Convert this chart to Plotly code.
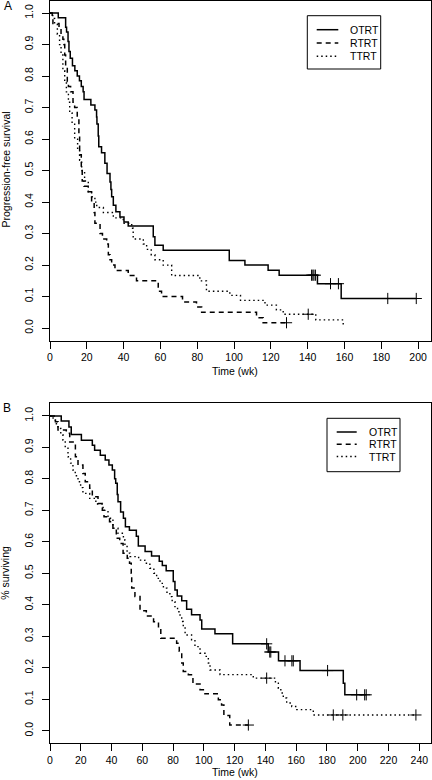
import plotly.graph_objects as go

# ---------------- Panel A : progression-free survival ----------------
a_otrt_t = [4.5, 8.5, 9.0, 9.8, 10.3, 11.0, 12.2, 13.5, 14.8, 16.0, 17.0, 18.0, 18.5,
            22.2, 24.4, 25.3, 25.5, 26.2, 26.5, 28.0, 29.8, 31.0, 32.6, 33.1, 33.5, 34.4,
            35.8, 38.0, 40.2, 42.5, 56.1, 57.0, 61.5, 97.4, 105.9, 118.5, 124.5, 145.3, 158.2]
a_otrt_s = [0.985, 0.955, 0.94, 0.91, 0.878, 0.857, 0.833, 0.817, 0.80, 0.785, 0.767, 0.75, 0.726,
            0.708, 0.692, 0.67, 0.648, 0.61, 0.576, 0.557, 0.523, 0.491, 0.464, 0.44, 0.417, 0.39,
            0.369, 0.353, 0.337, 0.324, 0.29, 0.263, 0.247, 0.215, 0.20, 0.184, 0.168, 0.141, 0.094]
a_otrt_cens = [142.1, 142.8, 143.4, 144.2, 152.4, 156.7, 183.5, 199.0]
a_otrt_end = 199.0

a_rtrt_t = [1.2, 1.6, 4.9, 6.0, 7.0, 7.5, 8.0, 8.5, 9.4, 10.0, 11.2, 12.5, 13.4, 14.8, 15.7,
            16.1, 17.0, 17.5, 18.5, 20.8, 22.6, 24.0, 24.4, 27.2, 28.5, 30.8, 31.7, 32.6, 33.5,
            35.3, 42.5, 47.0, 58.8, 60.6, 72.0, 79.6, 82.4, 112.2, 115.8]
a_rtrt_s = [0.983, 0.967, 0.95, 0.933, 0.917, 0.90, 0.867, 0.833, 0.783, 0.767, 0.75, 0.717, 0.70,
            0.667, 0.617, 0.55, 0.50, 0.467, 0.45, 0.433, 0.40, 0.367, 0.333, 0.30, 0.283, 0.267,
            0.233, 0.217, 0.20, 0.183, 0.167, 0.15, 0.117, 0.10, 0.083, 0.067, 0.05, 0.033, 0.017]
a_rtrt_cens = [128.5]
a_rtrt_end = 128.5

a_ttrt_t = [1.5, 2.5, 4.0, 5.2, 6.0, 7.0, 8.0, 8.9, 10.0, 10.7, 12.0, 13.4, 15.0, 16.1, 17.2,
            18.8, 20.8, 22.6, 24.4, 25.4, 29.0, 34.4, 39.8, 44.4, 45.2, 50.7, 52.5, 55.0, 57.0,
            61.5, 66.1, 81.4, 85.0, 97.7, 103.5, 116.8, 123.0, 126.7, 144.4, 159.3]
a_ttrt_s = [0.983, 0.967, 0.933, 0.90, 0.867, 0.817, 0.783, 0.75, 0.717, 0.683, 0.65, 0.60, 0.567,
            0.533, 0.50, 0.467, 0.433, 0.417, 0.40, 0.383, 0.367, 0.35, 0.333, 0.317, 0.283,
            0.267, 0.25, 0.233, 0.217, 0.20, 0.167, 0.15, 0.117, 0.104, 0.088, 0.073, 0.058,
            0.044, 0.026, 0.011]
a_ttrt_cens = [140.3]
a_ttrt_end = 160.3

# ---------------- Panel B : overall survival ----------------
b_otrt_t = [7.3, 12.3, 13.8, 20.4, 27.5, 29.0, 32.7, 35.9, 38.3, 40.5, 42.0, 42.7, 43.7, 44.2,
            45.9, 47.7, 49.0, 51.6, 56.1, 57.4, 61.8, 66.0, 71.0, 73.0, 75.5, 80.1, 81.2, 82.7,
            85.6, 88.8, 92.0, 97.5, 98.6, 107.2, 118.7, 141.8, 148.5, 162.5, 190.6, 191.6]
b_otrt_s = [0.984, 0.965, 0.941, 0.923, 0.907, 0.891, 0.875, 0.86, 0.844, 0.828, 0.80, 0.786,
            0.75, 0.727, 0.695, 0.675, 0.648, 0.637, 0.618, 0.587, 0.569, 0.555, 0.538, 0.525,
            0.508, 0.474, 0.447, 0.428, 0.413, 0.386, 0.368, 0.352, 0.323, 0.308, 0.276, 0.25,
            0.222, 0.191, 0.151, 0.114]
b_otrt_cens = [140.8, 142.8, 143.5, 152.7, 157.2, 158.1, 180.4, 199.3, 204.5, 205.5]
b_otrt_end = 205.5

b_rtrt_t = [3.5, 5.2, 10.6, 12.8, 16.5, 18.2, 21.4, 22.9, 25.8, 27.5, 31.2, 34.0, 35.1, 38.7,
            40.9, 43.1, 45.3, 47.5, 50.2, 51.7, 52.8, 53.1, 55.2, 58.5, 62.6, 67.3, 70.5, 72.0,
            82.3, 84.0, 85.6, 86.6, 89.9, 92.9, 97.5, 100.7, 109.4, 111.5, 113.0, 116.8]
b_rtrt_s = [0.981, 0.955, 0.945, 0.917, 0.87, 0.844, 0.817, 0.791, 0.77, 0.743, 0.722, 0.70,
            0.68, 0.664, 0.643, 0.611, 0.595, 0.564, 0.548, 0.532, 0.50, 0.453, 0.426, 0.381,
            0.364, 0.346, 0.326, 0.294, 0.278, 0.252, 0.215, 0.188, 0.178, 0.148, 0.13, 0.117,
            0.098, 0.082, 0.048, 0.018]
b_rtrt_cens = [128.9]
b_rtrt_end = 128.9

b_ttrt_t = [2.0, 3.5, 5.2, 7.0, 8.4, 9.9, 11.7, 13.4, 14.9, 16.4, 18.2, 19.9, 21.4, 25.8, 29.8,
            34.5, 37.7, 40.9, 44.2, 47.7, 48.7, 50.1, 52.0, 57.6, 61.6, 64.9, 67.5, 69.3, 71.5,
            73.7, 76.0, 77.9, 79.4, 81.2, 82.9, 84.5, 85.6, 86.6, 87.8, 92.0, 94.2, 97.5, 100.7,
            102.9, 104.0, 110.5, 132.1, 146.5, 148.4, 150.0, 151.6, 153.8, 157.1, 160.4, 171.1]
b_ttrt_s = [0.99, 0.975, 0.96, 0.94, 0.923, 0.90, 0.87, 0.85, 0.828, 0.81, 0.791, 0.772, 0.754,
            0.738, 0.72, 0.70, 0.675, 0.643, 0.627, 0.606, 0.585, 0.564, 0.553, 0.542, 0.532,
            0.516, 0.50, 0.484, 0.468, 0.453, 0.44, 0.426, 0.41, 0.394, 0.378, 0.363, 0.347,
            0.331, 0.304, 0.289, 0.267, 0.246, 0.236, 0.215, 0.193, 0.178, 0.167, 0.151, 0.135,
            0.12, 0.104, 0.088, 0.077, 0.067, 0.05]
b_ttrt_cens = [140.8, 184.1, 190.3, 237.8]
b_ttrt_end = 237.8

groups = ["OTRT", "RTRT", "TTRT"]
x_ticks_a = list(range(0, 201, 20))
x_ticks_b = list(range(0, 241, 20))
y_ticks = [i / 10 for i in range(11)]

W, H = 432, 780
FONT = "Liberation Sans, Arial, Helvetica, sans-serif"
dash_styles = {"OTRT": "solid", "RTRT": "5px,4px", "TTRT": "1.5px,3px"}
widths = {"OTRT": 1.5, "RTRT": 1.5, "TTRT": 1.4}


def level_at(times, surv, t):
    s = 1.0
    for ti, si in zip(times, surv):
        if ti <= t:
            s = si
    return s


fig = go.Figure()
panels = [
    ("x", "y", [(a_otrt_t, a_otrt_s, a_otrt_cens, a_otrt_end),
                (a_rtrt_t, a_rtrt_s, a_rtrt_cens, a_rtrt_end),
                (a_ttrt_t, a_ttrt_s, a_ttrt_cens, a_ttrt_end)]),
    ("x2", "y2", [(b_otrt_t, b_otrt_s, b_otrt_cens, b_otrt_end),
                  (b_rtrt_t, b_rtrt_s, b_rtrt_cens, b_rtrt_end),
                  (b_ttrt_t, b_ttrt_s, b_ttrt_cens, b_ttrt_end)]),
]
for xa, ya, series in panels:
    for g, (t, s, cens, end) in zip(groups, series):
        xs = [0] + list(t) + [end]
        ys = [1.0] + list(s) + [s[-1]]
        fig.add_trace(go.Scatter(x=xs, y=ys, mode="lines", line_shape="hv",
                                 line=dict(color="black", width=widths[g], dash=dash_styles[g]),
                                 xaxis=xa, yaxis=ya, showlegend=False, name=g,
                                 hoverinfo="skip"))
        fig.add_trace(go.Scatter(x=cens, y=[level_at(t, s, c) for c in cens], mode="markers",
                                 marker=dict(symbol="cross-thin", size=8, color="black",
                                             line=dict(color="black", width=1)),
                                 xaxis=xa, yaxis=ya, showlegend=False, name=g,
                                 hoverinfo="skip"))


def X(px):
    return px / W


def Y(py):
    return 1 - py / H


axis_common = dict(showline=True, mirror=True, linecolor="black", linewidth=1,
                   ticks="outside", ticklen=7, tickwidth=1, tickcolor="black",
                   showgrid=False, zeroline=False, automargin=False,
                   tickfont=dict(family=FONT, size=10.5, color="black"))

fig.update_layout(
    width=W, height=H, margin=dict(l=0, r=0, t=0, b=0),
    paper_bgcolor="white", plot_bgcolor="white", showlegend=False,
    xaxis=dict(domain=[X(50), X(431)], range=[0, 207], tickvals=x_ticks_a,
               anchor="y", **axis_common),
    yaxis=dict(domain=[Y(340.7), Y(0.5)], range=[-0.04, 1.04], tickvals=y_ticks,
               tickformat=".1f", tickangle=-90, ticklabelstandoff=5, anchor="x", **axis_common),
    xaxis2=dict(domain=[X(50), X(431)], range=[0, 247.6], tickvals=x_ticks_b,
                anchor="y2", **axis_common),
    yaxis2=dict(domain=[Y(743.3), Y(403.3)], range=[-0.04, 1.04], tickvals=y_ticks,
                tickformat=".1f", tickangle=-90, ticklabelstandoff=5, anchor="x2", **axis_common),
)

annotations = []
shapes = []


def text(px, py, s, size=10.5, angle=0, xanchor="center"):
    annotations.append(dict(x=X(px), y=Y(py), xref="paper", yref="paper", text=s,
                            showarrow=False, textangle=angle, xanchor=xanchor,
                            yanchor="middle", font=dict(family=FONT, size=size, color="black")))


text(7.5, 6, "A", size=12)
text(7, 407.5, "B", size=12)
text(234.5, 371, "Time (wk)")
text(235, 772, "Time (wk)")
text(5.5, 170, "Progression-free survival", angle=-90)
text(5.5, 573.3, "% surviving", angle=-90)

# legends
legend_specs = [
    dict(box=(307.3, 15.7, 380.7, 69), rows=[29.7, 43, 56.3], line=(316.7, 338.3), tx=347.7),
    dict(box=(327, 418.3, 400, 471.7), rows=[432, 444.3, 456.5], line=(336.7, 356.7), tx=366.7),
]
for spec in legend_specs:
    x0, y0, x1, y1 = spec["box"]
    shapes.append(dict(type="rect", xref="paper", yref="paper", x0=X(x0), x1=X(x1),
                       y0=Y(y1), y1=Y(y0), line=dict(color="black", width=1),
                       fillcolor="white"))
    for g, ry in zip(groups, spec["rows"]):
        shapes.append(dict(type="line", xref="paper", yref="paper",
                           x0=X(spec["line"][0]), x1=X(spec["line"][1]), y0=Y(ry), y1=Y(ry),
                           line=dict(color="black", width=widths[g], dash=dash_styles[g])))
        text(spec["tx"], ry, g, xanchor="left")

fig.update_layout(annotations=annotations, shapes=shapes)
fig.write_html("out.html", config={"displayModeBar": False},
               post_script="document.body.style.margin='0';document.body.style.overflow='hidden';")
